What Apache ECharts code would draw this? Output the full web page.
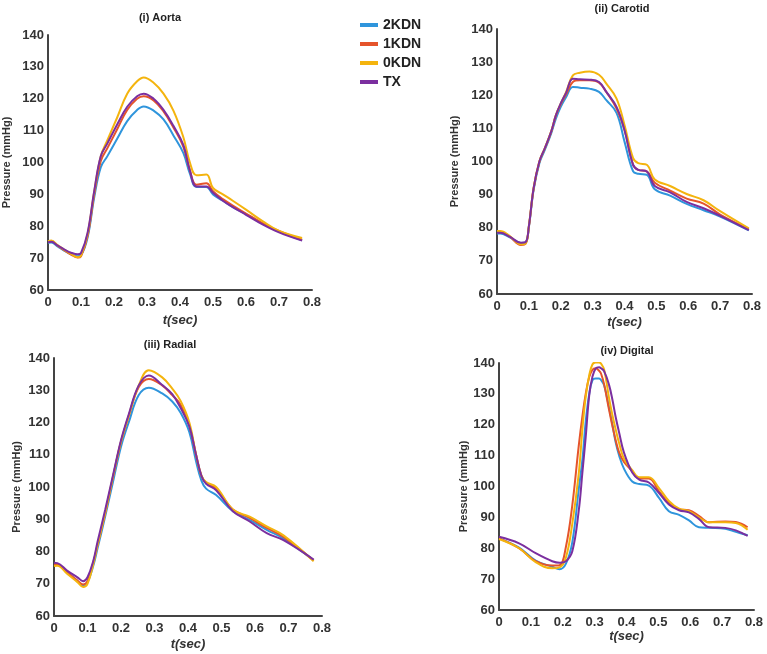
<!DOCTYPE html>
<html><head><meta charset="utf-8">
<script src="https://cdn.jsdelivr.net/npm/echarts@6/dist/echarts.min.js"></script>
<style>html,body{margin:0;padding:0;background:#fff}#c{width:767px;height:654px}</style>
</head><body><div id="c"></div>
<script>
// ---- data ----
var seriesNames = ['2KDN', '1KDN', '0KDN', 'TX'];
var panelTitles = ['(i) Aorta', '(ii) Carotid', '(iii) Radial', '(iv) Digital'];
var xTicks = [0, 0.8, 0.1];   // min, max, interval
var yTicks = [60, 140, 10];

var aortaT = [0, 0.01, 0.03, 0.05, 0.07, 0.09, 0.1, 0.12, 0.14, 0.16, 0.18, 0.21, 0.24, 0.27, 0.29, 0.32, 0.35, 0.38, 0.41, 0.43, 0.45, 0.48, 0.5, 0.53, 0.56, 0.6, 0.65, 0.7, 0.77];
var aorta2KDN = [74.8, 74.9, 73.6, 72.3, 71.2, 70.6, 70.9, 76.5, 89, 98.5, 102, 107.5, 113, 116.5, 117.6, 116.3, 113.5, 108.5, 103, 96.5, 92.3, 92.3, 90, 88, 86, 83.8, 80.8, 78.3, 75.6];
var aorta1KDN = [75.3, 75.4, 73.8, 72.4, 71.1, 70.2, 70.6, 77, 90, 100.5, 104.5, 110.5, 116.5, 120, 120.8, 119.5, 116, 111, 105, 97.5, 93, 93.5, 91, 88.5, 86.5, 84, 81, 78.5, 75.8];
var aorta0KDN = [75.3, 75.5, 74, 72.6, 71.3, 70.3, 70.8, 77.6, 90.8, 102, 107, 114.2, 121.6, 125.5, 126.7, 125, 121.6, 116.3, 108, 100, 96, 96.2, 92, 90, 88, 85.2, 81.6, 78.5, 76.3];
var aortaTX   = [75, 75.1, 73.9, 72.7, 71.7, 71.2, 71.6, 78, 91, 102, 106, 112, 117.5, 120.8, 121.6, 120, 116.5, 111.5, 105.5, 97.5, 92.5, 92.5, 90.5, 88, 86, 83.6, 80.6, 78.1, 75.5];

var carotidT = [0, 0.01, 0.04, 0.075, 0.09, 0.1, 0.115, 0.133, 0.15, 0.17, 0.185, 0.2, 0.217, 0.238, 0.26, 0.29, 0.32, 0.343, 0.375, 0.4, 0.427, 0.443, 0.47, 0.495, 0.543, 0.595, 0.648, 0.7, 0.79];
var carotid2KDN = [78.3, 78.3, 77.1, 75.4, 75.6, 80.2, 91.5, 99.5, 103.5, 108.5, 113, 116.5, 119.5, 122.5, 122.3, 122, 121, 118.5, 114.7, 106, 97, 96.3, 96, 91.6, 89.7, 87.2, 85.3, 83.4, 79.2];
var carotid1KDN = [78.8, 78.8, 77.3, 74.8, 75.2, 80.3, 92, 100, 104, 109, 114, 117.3, 120.3, 124, 124.5, 124.5, 123.8, 121, 116, 109.5, 99, 97.5, 97, 93.6, 91.2, 88.8, 87.3, 84, 79.6];
var carotid0KDN = [79, 79, 77.5, 75, 75.3, 80.5, 92, 100, 104, 109, 114, 117.5, 121, 126, 126.8, 127.2, 126.2, 123.5, 119, 111, 101, 99.5, 99, 94.6, 92.6, 90.2, 88.3, 85, 79.8];
var carotidTX   = [78.5, 78.5, 77.3, 75.5, 75.7, 80.5, 92, 100, 104, 109, 114, 117.5, 120.8, 125, 124.8, 124.7, 124, 121, 116.5, 109.5, 99, 97.5, 97, 92.6, 90.7, 87.8, 85.9, 83.6, 79.3];

var radialT = [0, 0.01, 0.04, 0.07, 0.087, 0.1, 0.117, 0.13, 0.153, 0.178, 0.2, 0.223, 0.253, 0.283, 0.323, 0.353, 0.378, 0.404, 0.424, 0.44, 0.454, 0.484, 0.534, 0.584, 0.635, 0.685, 0.775];
var radial2KDN = [76, 76, 73.5, 70.8, 69.5, 70.5, 75.5, 81, 91, 102.5, 112.5, 120, 128.5, 130.8, 129, 126.5, 123, 117, 108, 102, 99.5, 97.5, 92.5, 89.8, 86.7, 84, 77.3];
var radial1KDN = [76, 76, 73.5, 71, 69.8, 70.8, 76.5, 82, 92, 104, 114, 122, 131, 133.5, 131.5, 128.5, 125.5, 119, 110, 103.5, 101.3, 99.5, 93, 90.4, 87.3, 84.5, 77.2];
var radial0KDN = [75.5, 75.6, 73, 70.5, 69, 70, 76, 82, 92, 104, 114, 122, 131.5, 136.2, 134, 130.5, 126.7, 120, 110, 103.5, 101.5, 100, 93, 90.8, 87.8, 85, 77];
var radialTX   = [76.5, 76.4, 74, 72, 70.8, 72, 77, 83, 93, 104.5, 114.5, 122.5, 131.5, 134.6, 131.6, 128.8, 124.5, 118.8, 110, 103.5, 101, 99, 92.5, 89.3, 85.7, 83.5, 77.5];

var digitalT = [0, 0.063, 0.115, 0.167, 0.19, 0.21, 0.23, 0.25, 0.262, 0.272, 0.283, 0.293, 0.303, 0.314, 0.32, 0.33, 0.345, 0.356, 0.366, 0.377, 0.392, 0.418, 0.44, 0.47, 0.502, 0.533, 0.565, 0.596, 0.627, 0.66, 0.71, 0.743, 0.78];
var digital2KDN = [83.2, 80.2, 76, 74, 73.2, 75, 82, 99, 109, 121, 130, 134.4, 135, 135, 134.5, 132.7, 125.7, 120, 114.3, 110, 105.8, 101.6, 100.8, 100.3, 96.3, 92, 90.8, 89, 86.8, 86.6, 86.3, 85.3, 84.2];
var digital1KDN = [83.2, 80, 75.8, 74.4, 74.5, 80.5, 94, 113, 123, 130, 135.5, 137.8, 138.3, 137.5, 136.6, 133, 125, 119.5, 115, 111, 108, 105, 102.6, 102.6, 98.4, 94.7, 92.6, 92.3, 90.5, 88.4, 88.7, 88.5, 86.8];
var digital0KDN = [83, 80, 75.5, 73.5, 73.8, 77, 88, 104, 119, 129, 136, 139.5, 140.2, 140.2, 139.8, 137.8, 128.8, 123, 118.5, 114, 109, 105.3, 103, 103, 99.5, 95.3, 92.8, 92, 90, 88.4, 88.4, 88.2, 86];
var digitalTX   = [83.7, 81.6, 78.4, 75.8, 75.3, 75.8, 79, 92, 105, 116, 129.5, 135.5, 138.2, 138.6, 138.3, 137.3, 133, 128, 122.5, 117.4, 111, 104.5, 102.2, 101.3, 97.9, 94.2, 92.3, 91.6, 89.5, 86.8, 86.6, 85.8, 84];

// ---- build ----
var colors = ['#2f95dc', '#e5542b', '#f4b40e', '#7b2f9f'];
var panels = [
  {t: aortaT, v: [aorta2KDN, aorta1KDN, aorta0KDN, aortaTX]},
  {t: carotidT, v: [carotid2KDN, carotid1KDN, carotid0KDN, carotidTX]},
  {t: radialT, v: [radial2KDN, radial1KDN, radial0KDN, radialTX]},
  {t: digitalT, v: [digital2KDN, digital1KDN, digital0KDN, digitalTX]}
];
var grids = [
  {left: 46, top: 35, width: 266, height: 255},
  {left: 497, top: 29, width: 255, height: 265},
  {left: 54, top: 358, width: 268, height: 258},
  {left: 499, top: 363, width: 255, height: 247}
];
var yNameGap = [36, 37, 32, 25];
var xNameGap = [24, 22, 22, 20];
var titlePos = [[155, 7], [617, -2], [165, 334], [622, 340]];
var font = '"Liberation Sans", Arial, sans-serif';

var xAxes = [], yAxes = [], series = [], titles = [];
grids.forEach(function (g, i) {
  xAxes.push({
    type: 'value', gridIndex: i, min: xTicks[0], max: xTicks[1], interval: xTicks[2],
    name: 't(sec)', nameLocation: 'middle', nameGap: xNameGap[i],
    nameTextStyle: {fontFamily: font, fontWeight: 'bold', fontStyle: 'italic', fontSize: 13, color: '#333'},
    axisLine: {lineStyle: {color: '#444', width: 2}}, axisTick: {show: false}, splitLine: {show: false},
    axisLabel: {fontFamily: font, fontWeight: 'bold', fontSize: 13, color: '#333', margin: 6}
  });
  yAxes.push({
    type: 'value', gridIndex: i, min: yTicks[0], max: yTicks[1], interval: yTicks[2],
    name: 'Pressure (mmHg)', nameLocation: 'middle', nameGap: yNameGap[i], nameRotate: 90,
    nameTextStyle: {fontFamily: font, fontWeight: 'bold', fontSize: 11, color: '#333'},
    axisLine: {show: true, lineStyle: {color: '#444', width: 2}}, axisTick: {show: false}, splitLine: {show: false},
    axisLabel: {fontFamily: font, fontWeight: 'bold', fontSize: 13, color: '#333', margin: 4}
  });
  titles.push({
    text: panelTitles[i], left: titlePos[i][0], top: titlePos[i][1], textAlign: 'center',
    textStyle: {fontFamily: font, fontWeight: 'bold', fontSize: 11, color: '#222'}
  });
  var p = panels[i];
  seriesNames.forEach(function (name, k) {
    series.push({
      name: name, type: 'line', xAxisIndex: i, yAxisIndex: i, smooth: 0.4,
      showSymbol: false, symbol: 'none', color: colors[k],
      lineStyle: {width: 2, color: colors[k]},
      data: p.t.map(function (t, j) { return [t, p.v[k][j]]; }),
      z: 2 + k
    });
  });
});

var chart = echarts.init(document.getElementById('c'));
chart.setOption({
  animation: false,
  backgroundColor: '#fff',
  title: titles,
  legend: {
    data: seriesNames, orient: 'vertical', left: 355, top: 13, itemWidth: 18, itemHeight: 4,
    itemGap: 5, icon: 'rect',
    textStyle: {fontFamily: font, fontWeight: 'bold', fontSize: 14, color: '#222'}
  },
  grid: grids,
  xAxis: xAxes,
  yAxis: yAxes,
  series: series
});
</script></body></html>
